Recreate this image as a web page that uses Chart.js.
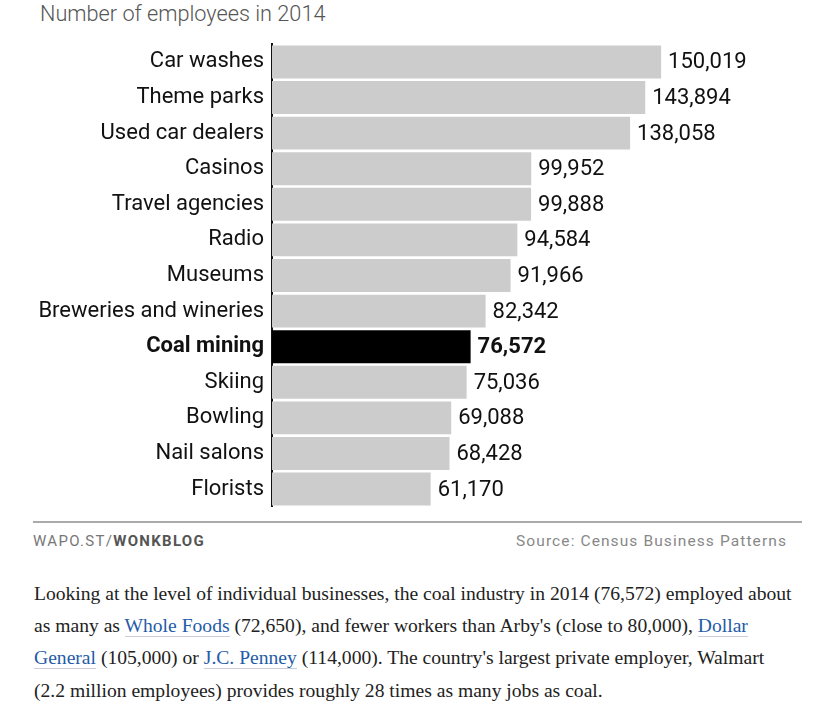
<!DOCTYPE html>
<html>
<head>
<meta charset="utf-8">
<script src="https://cdn.jsdelivr.net/npm/chart.js@4.4.1/dist/chart.umd.min.js"></script>
<style>
  body { margin: 0; background: #fff; width: 818px; height: 716px; position: relative; overflow: hidden; }
  #title { position: absolute; left: 40px; top: 1px; font: 300 21.7px Roboto, sans-serif; color: #555; }
  #wrap { position: absolute; left: 0; top: 31px; width: 818px; height: 489px; }
  #rule { position: absolute; left: 33px; top: 521px; width: 769px; height: 2px; background: #aaa; }
  #credit { position: absolute; left: 33px; top: 532px; font: 15px Roboto, sans-serif; color: #777; letter-spacing: 1.3px; }
  #credit b { color: #555; }
  #source { position: absolute; right: 31px; top: 532px; font: 15.5px Roboto, sans-serif; color: #888; letter-spacing: 1.1px; }
  #text { position: absolute; left: 34px; top: 578px; font: 19.6px "Liberation Serif", serif; color: #222; line-height: 32.2px; white-space: nowrap; }
  #text a { color: #1f5ca8; text-decoration: none; border-bottom: 1px solid #ccd; }
</style>
</head>
<body>
<div id="title">Number of employees in 2014</div>
<div id="wrap"><canvas id="c"></canvas></div>
<div id="rule"></div>
<div id="credit">WAPO.ST/<b>WONKBLOG</b></div>
<div id="source">Source: Census Business Patterns</div>
<div id="text">Looking at the level of individual businesses, the coal industry in 2014 (76,572) employed about<br>as many as <a>Whole Foods</a> (72,650), and fewer workers than Arby's (close to 80,000), <a>Dollar</a><br><a>General</a> (105,000) or <a>J.C. Penney</a> (114,000). The country's largest private employer, Walmart<br>(2.2 million employees) provides roughly 28 times as many jobs as coal.</div>
<script>
const industries = ["Car washes", "Theme parks", "Used car dealers", "Casinos", "Travel agencies", "Radio",
  "Museums", "Breweries and wineries", "Coal mining", "Skiing", "Bowling", "Nail salons", "Florists"];
const employees = [150019, 143894, 138058, 99952, 99888, 94584, 91966, 82342, 76572, 75036, 69088, 68428, 61170];
const highlight = "Coal mining";
const xMax = 210500;

const isHi = i => industries[i] === highlight;

const valueLabels = {
  id: "valueLabels",
  afterDatasetsDraw(chart) {
    const ctx = chart.ctx;
    const meta = chart.getDatasetMeta(0);
    ctx.save();
    ctx.textBaseline = "middle";
    ctx.textAlign = "left";
    meta.data.forEach((bar, i) => {
      ctx.font = (isHi(i) ? "bold " : "") + "22px Roboto, sans-serif";
      ctx.fillStyle = "#111";
      ctx.fillText(employees[i].toLocaleString("en-US"), bar.x + 7, bar.y + 1);
    });
    ctx.restore();
  }
};

new Chart(document.getElementById("c"), {
  type: "bar",
  data: {
    labels: industries,
    datasets: [{
      data: employees,
      backgroundColor: industries.map((n, i) => isHi(i) ? "#000" : "#cccccc"),
      barPercentage: 1,
      categoryPercentage: 0.925
    }]
  },
  options: {
    indexAxis: "y",
    responsive: true,
    maintainAspectRatio: false,
    animation: false,
    layout: { padding: 0 },
    plugins: { legend: { display: false }, tooltip: { enabled: false } },
    scales: {
      x: { display: false, min: 0, max: xMax },
      y: {
        grid: { display: false },
        border: { display: true, color: "#111", width: 2 },
        afterFit(scale) { scale.width = 272; },
        ticks: {
          padding: 0,
          color: "#111",
          font: ctx => ({ family: "Roboto, sans-serif", size: 22, weight: isHi(ctx.index) ? "bold" : "normal" })
        }
      }
    }
  },
  plugins: [valueLabels]
});
</script>
</body>
</html>
